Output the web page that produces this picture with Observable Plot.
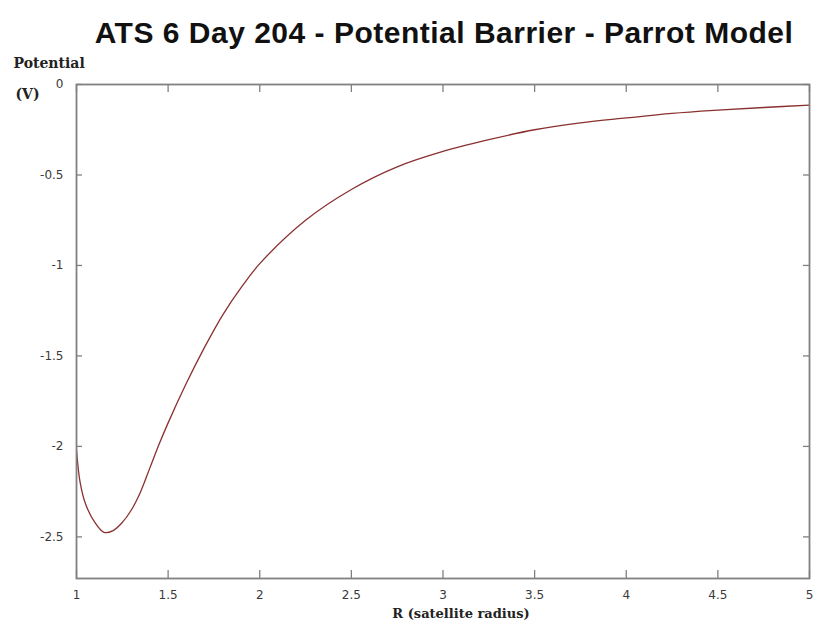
<!DOCTYPE html>
<html>
<head>
<meta charset="utf-8">
<script src="https://cdn.jsdelivr.net/npm/d3@7"></script>
<script src="https://cdn.jsdelivr.net/npm/@observablehq/plot@0.6"></script>
<style>
  html, body { margin: 0; padding: 0; background: #fff; }
  #title { height: 48px; width: 818px; position: relative; }
  #title span { position: absolute; left: 444px; top: 33px; transform: translate(-50%, -50%);
    font-family: "Liberation Sans", Arial, sans-serif; font-weight: bold; font-size: 30px; letter-spacing: 0.5px; color: #111; white-space: nowrap; }
</style>
</head>
<body>
<div id="title"><span>ATS 6 Day 204 - Potential Barrier - Parrot Model</span></div>
<div id="chart"></div>
<script>
// Radius in satellite radii
const radius = [1.0, 1.02, 1.05, 1.1, 1.15, 1.2, 1.25, 1.3, 1.35, 1.4, 1.45, 1.5, 1.6, 1.7, 1.8, 1.9, 2.0,
  2.25, 2.5, 2.75, 3.0, 3.25, 3.5, 3.75, 4.0, 4.25, 4.5, 4.75, 5.0];
// Potential (V)
const potential = [-2.02, -2.2, -2.32, -2.42, -2.475, -2.465, -2.42, -2.35, -2.25, -2.12, -1.99, -1.87, -1.65, -1.45, -1.27, -1.12, -0.99,
  -0.75, -0.58, -0.455, -0.37, -0.305, -0.25, -0.212, -0.185, -0.16, -0.142, -0.127, -0.114];

const xTicks = [1, 1.5, 2, 2.5, 3, 3.5, 4, 4.5, 5];
const xTickLabels = ["1", "1.5", "2", "2.5", "3", "3.5", "4", "4.5", "5"];
const yTicks = [0, -0.5, -1, -1.5, -2, -2.5];
const yTickLabels = ["0", "-0.5", "-1", "-1.5", "-2", "-2.5"];
const xLabel = "R (satellite radius)";
const yLabel = ["Potential", "(V)"];

const data = radius.map((r, i) => ({r, v: potential[i]}));

const W = 818, H = 589;
const mL = 76, mR = 9, mT = 36, mB = 59;
const fw = W - mL - mR, fh = H - mT - mB;
const tick = 8;
const axisColor = "#808080";
const tickFont = "DejaVu Sans, Verdana, sans-serif";
const labelFont = "DejaVu Serif, Times New Roman, serif";

const chart = Plot.plot({
  width: W, height: H,
  marginLeft: mL, marginRight: mR, marginTop: mT, marginBottom: mB,
  style: {background: "#fff", fontFamily: tickFont},
  x: {domain: [1, 5]},
  y: {domain: [-2.73, 0]},
  marks: [
    // inward ticks, gnuplot style
    Plot.tickX(xTicks, {x: d => d, insetTop: fh - tick, stroke: axisColor, strokeWidth: 1.3}),
    Plot.tickX(xTicks, {x: d => d, insetBottom: fh - tick, stroke: axisColor, strokeWidth: 1.3}),
    Plot.tickY(yTicks, {y: d => d, insetRight: fw - 6, stroke: axisColor, strokeWidth: 1.3}),
    Plot.tickY(yTicks, {y: d => d, insetLeft: fw - 6, stroke: axisColor, strokeWidth: 1.3}),
    Plot.axisX(xTicks, {tickSize: 0, tickPadding: 12, tickFormat: (d, i) => xTickLabels[i],
      fontSize: 12, fill: "#3a3a3a", label: null}),
    Plot.axisY(yTicks, {tickSize: 0, tickPadding: 13, tickFormat: (d, i) => yTickLabels[i],
      fontSize: 12, fill: "#3a3a3a", label: null}),
    Plot.line(data, {x: "r", y: "v", curve: "catmull-rom", stroke: "#8a3030", strokeWidth: 1.3}),
    Plot.frame({stroke: axisColor, strokeWidth: 1.8}),
    Plot.text([xLabel], {text: d => d, frameAnchor: "bottom", dy: 39, dx: 18,
      fontFamily: labelFont, fontWeight: "bold", fontSize: 13, fill: "#222"}),
    Plot.text([yLabel[0]], {text: d => d, frameAnchor: "top-left", textAnchor: "start", dx: -63, dy: -26,
      fontFamily: labelFont, fontWeight: "bold", fontSize: 14, fill: "#222"}),
    Plot.text([yLabel[1]], {text: d => d, frameAnchor: "top-left", textAnchor: "start", dx: -61, dy: 5,
      fontFamily: labelFont, fontWeight: "bold", fontSize: 14, fill: "#222"})
  ]
});
document.getElementById("chart").appendChild(chart);
</script>
</body>
</html>
